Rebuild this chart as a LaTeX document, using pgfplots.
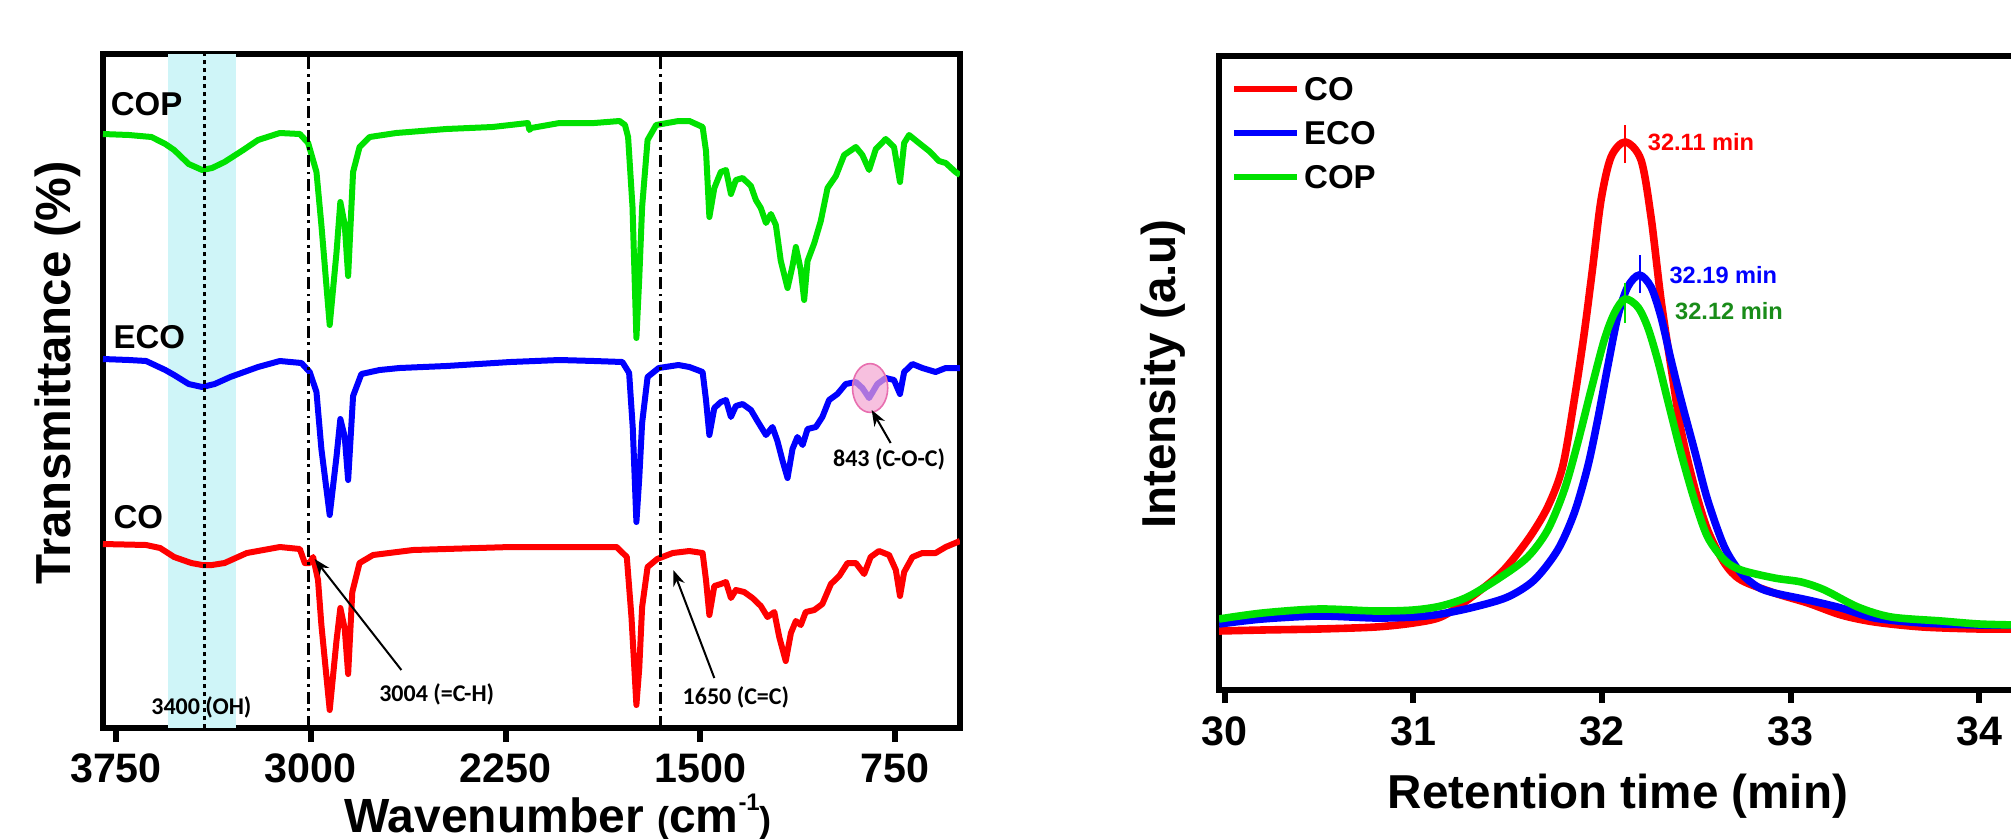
\documentclass[border=0pt]{standalone}
\usepackage{pgfplots}
\pgfplotsset{compat=1.18}
\usepackage{fontspec}
\setmainfont{Liberation Sans}
\newfontfamily\calib{Carlito}
\usetikzlibrary{arrows.meta}
\definecolor{cyanband}{RGB}{207,245,248}
\definecolor{cgreen}{RGB}{0,225,0}
\definecolor{dgreen}{RGB}{25,140,25}
\definecolor{cred}{RGB}{255,0,0}
\definecolor{cblue}{RGB}{0,0,255}
\definecolor{pinkfill}{RGB}{244,165,210}
\definecolor{pinkdraw}{RGB}{232,110,175}

\begin{document}
\begin{tikzpicture}
%================ LEFT: FTIR =================
\begin{axis}[
  at={(25.75pt,27.5pt)}, anchor=south west,
  width=214.25pt, height=168.5pt, scale only axis,
  xmin=500, xmax=3800, ymin=0, ymax=674, x dir=reverse,
  axis line style={line width=1.5pt},
  xtick={750,1500,2250,3000,3750},
  xticklabels={750,1500,2250,3000,3750},
  ytick=\empty, xtick pos=left, tick align=outside,
  major tick length=3.5pt,
  tick style={black, line width=1.5pt},
  xticklabel style={font=\bfseries\fontsize{10.3}{12}\selectfont, anchor=base, yshift=-10pt},
  /pgf/number format/assume math mode=true,
  scaled x ticks=false,
]
\fill[cyanband] (axis cs:3549,0) rectangle (axis cs:3286,674);
% COP
\addplot[cgreen, line width=1.5pt, line join=round] coordinates {
(3800,594) (3700,593) (3613,591) (3560,584) (3526,578) (3470,564) (3418,558) (3380,560) (3332,566) (3260,578) (3203,588) (3119,595) (3042,594) (3010,585) (2978,556) (2959,503) (2927,403) (2901,475) (2886,526) (2869,503) (2856,452) (2837,556) (2812,581) (2773,591) (2671,595) (2478,599) (2300,601) (2164,605) (2158,598) (2151,600) (2042,605) (1908,605) (1811,607) (1790,603) (1778,591) (1761,521) (1746,390) (1735,450) (1724,521) (1703,588) (1670,603) (1584,607) (1542,607) (1491,601) (1478,577) (1465,511) (1446,540) (1421,556) (1401,558) (1382,534) (1363,548) (1337,550) (1305,542) (1286,528) (1267,520) (1247,505) (1228,514) (1209,503) (1190,467) (1164,440) (1145,462) (1132,481) (1113,458) (1100,428) (1087,467) (1061,485) (1036,507) (1010,540) (978,552) (946,573) (901,581) (876,573) (850,558) (824,579) (786,589) (754,581) (731,546) (715,585) (696,593) (658,585) (619,577) (581,567) (555,565) (517,556) (500,553)
};
% ECO
\addplot[cblue, line width=1.5pt, line join=round] coordinates {
(3800,369) (3700,368) (3634,367) (3560,358) (3526,353) (3470,344) (3418,341) (3370,344) (3310,351) (3203,361) (3119,367) (3036,365) (3004,356) (2978,336) (2959,279) (2927,213) (2901,271) (2886,309) (2869,291) (2856,248) (2837,332) (2805,354) (2735,358) (2658,360) (2478,362) (2231,366) (2042,368) (1908,367) (1800,366) (1774,355) (1760,300) (1746,206) (1735,250) (1724,305) (1703,351) (1660,360) (1584,363) (1542,361) (1491,356) (1478,328) (1465,293) (1446,320) (1421,326) (1401,328) (1382,311) (1363,322) (1337,324) (1305,318) (1280,307) (1247,293) (1222,301) (1203,287) (1183,267) (1164,250) (1145,279) (1126,291) (1106,283) (1087,299) (1055,301) (1030,311) (1004,328) (972,334) (940,344) (901,346) (876,340) (850,330) (818,344) (786,350) (754,348) (731,334) (715,356) (683,364) (645,360) (594,356) (555,360) (500,360)
};
% CO
\addplot[cred, line width=1.5pt, line join=round] coordinates {
(3800,184) (3634,183) (3580,180) (3526,171) (3460,165) (3418,163) (3380,163) (3332,165) (3246,175) (3119,181) (3042,179) (3023,165) (3004,165) (2991,171) (2972,148) (2959,103) (2927,18) (2901,87) (2886,120) (2869,99) (2856,54) (2840,136) (2812,165) (2760,173) (2606,178) (2231,181) (2042,181) (1822,181) (1783,171) (1765,111) (1746,23) (1735,60) (1724,121) (1703,161) (1666,169) (1606,175) (1542,177) (1491,175) (1478,148) (1465,113) (1446,142) (1421,144) (1401,146) (1382,130) (1363,138) (1331,136) (1299,130) (1267,122) (1241,111) (1215,116) (1196,91) (1171,67) (1151,95) (1132,107) (1113,103) (1094,116) (1061,118) (1030,124) (997,144) (965,152) (933,165) (901,165) (869,154) (844,171) (812,177) (773,173) (747,158) (731,132) (715,156) (683,171) (645,175) (594,175) (555,181) (500,187)
};
% reference lines
\draw[black, line width=0.75pt, dash pattern=on 1pt off 1pt] (axis cs:3410,0) -- (axis cs:3410,674);
\draw[black, line width=0.75pt, dash pattern=on 3pt off 1.2pt on 0.7pt off 1.2pt] (axis cs:3008,0) -- (axis cs:3008,674);
\draw[black, line width=0.75pt, dash pattern=on 3pt off 1.2pt on 0.7pt off 1.2pt] (axis cs:1655,0) -- (axis cs:1655,674);
% ellipse
\draw[pinkdraw, line width=0.4pt, fill=pinkfill, fill opacity=0.7] (axis cs:846,340) ellipse [x radius=4.4pt, y radius=6.1pt];
% arrows
\draw[black, line width=0.5pt, -{Stealth[length=4pt,width=3pt]}] (axis cs:2651,58) -- (axis cs:2985,169);
\draw[black, line width=0.5pt, -{Stealth[length=4pt,width=3pt]}] (axis cs:1446,50) -- (axis cs:1604,158);
\draw[black, line width=0.5pt, -{Stealth[length=4pt,width=3pt]}] (axis cs:767,285) -- (axis cs:840,318);
% labels
\node[anchor=west, inner sep=0pt, font=\bfseries\fontsize{8.25}{9}\selectfont] at (axis cs:3773,624) {COP};
\node[anchor=west, inner sep=0pt, font=\bfseries\fontsize{8.25}{9}\selectfont] at (axis cs:3762,391) {ECO};
\node[anchor=west, inner sep=0pt, font=\bfseries\fontsize{8.25}{9}\selectfont] at (axis cs:3762,211) {CO};
\node[inner sep=0pt, font=\calib\bfseries\fontsize{6}{7}\selectfont] at (axis cs:3421,21) {3400 (OH)};
\node[inner sep=0pt, font=\calib\bfseries\fontsize{6}{7}\selectfont] at (axis cs:2515,34) {3004 (=C-H)};
\node[inner sep=0pt, font=\calib\bfseries\fontsize{6}{7}\selectfont] at (axis cs:1363,31) {1650 (C=C)};
\node[inner sep=0pt, font=\calib\bfseries\fontsize{6}{7}\selectfont] at (axis cs:773,269) {843 (C-O-C)};
\end{axis}

%================ RIGHT: GPC =================
\begin{axis}[
  at={(304.75pt,37pt)}, anchor=south west,
  width=199.5pt, height=158.5pt, scale only axis,
  xmin=29.97, xmax=34.2, ymin=0, ymax=634,
  axis line style={line width=1.5pt},
  xtick={30,31,32,33,34},
  xticklabels={30,31,32,33,34},
  ytick=\empty, xtick pos=left, tick align=outside,
  major tick length=3.25pt,
  tick style={black, line width=1.5pt},
  xticklabel style={font=\bfseries\fontsize{10.3}{12}\selectfont, anchor=base, yshift=-10.5pt},
  /pgf/number format/assume math mode=true,
  legend style={at={(0,1)}, anchor=north west, xshift=2.75pt, yshift=-5pt,
    draw=none, fill=none, inner sep=0pt, row sep=5pt, column sep=1pt,
    font=\bfseries\fontsize{8.25}{9}\selectfont,
    nodes={inner sep=0pt, text height=6pt, text depth=0pt}},
  legend cell align=left,
  legend image code/.code={\draw[#1, line width=1.6pt] (0pt,0pt) -- (15.75pt,0pt);},
]
\addplot[cred, line width=1.9pt, smooth] coordinates {
(29.97,59) (30.2,60) (30.5,61) (30.8,63) (31.0,67) (31.146,73) (31.287,90) (31.464,117) (31.606,150) (31.712,183) (31.791,223) (31.853,290) (31.906,357) (31.951,423) (31.995,490) (32.048,533) (32.124,548) (32.207,530) (32.26,473) (32.313,390) (32.366,323) (32.419,260) (32.49,203) (32.56,160) (32.649,127) (32.737,110) (32.914,97) (33.091,87) (33.268,75) (33.445,68) (33.7,63) (34.0,61) (34.2,61)
};
\addlegendentry{CO}
\addplot[cblue, line width=1.9pt, smooth] coordinates {
(29.97,66) (30.2,71) (30.5,74) (30.8,72) (31.0,73) (31.146,76) (31.323,83) (31.5,93) (31.641,110) (31.765,140) (31.853,177) (31.924,223) (31.977,270) (32.03,323) (32.083,373) (32.136,403) (32.198,415) (32.26,403) (32.313,373) (32.366,330) (32.419,290) (32.49,240) (32.56,190) (32.649,143) (32.737,117) (32.826,103) (32.914,97) (33.091,90) (33.268,82) (33.445,72) (33.7,67) (34.0,65) (34.2,65)
};
\addlegendentry{ECO}
\addplot[cgreen, line width=1.9pt, smooth] coordinates {
(29.97,71) (30.2,77) (30.5,81) (30.8,79) (31.0,80) (31.146,84) (31.287,93) (31.464,113) (31.606,133) (31.712,160) (31.8,200) (31.871,247) (31.942,300) (32.012,350) (32.066,377) (32.122,391) (32.19,383) (32.242,363) (32.295,330) (32.348,290) (32.419,237) (32.49,190) (32.56,153) (32.649,130) (32.737,120) (32.914,112) (33.056,108) (33.18,100) (33.356,83) (33.533,73) (33.8,69) (34.0,66) (34.2,65)
};
\addlegendentry{COP}
% peak markers
\draw[cred, line width=0.5pt] (axis cs:32.124,527) -- (axis cs:32.124,565);
\draw[cblue, line width=0.5pt] (axis cs:32.2,397) -- (axis cs:32.2,435);
\draw[cgreen, line width=0.5pt] (axis cs:32.122,367) -- (axis cs:32.122,407);
\node[anchor=west, inner sep=0pt, text=cred, font=\bfseries\fontsize{5.9}{7}\selectfont] at (axis cs:32.239,548) {32.11 min};
\node[anchor=west, inner sep=0pt, text=cblue, font=\bfseries\fontsize{5.9}{7}\selectfont] at (axis cs:32.354,415) {32.19 min};
\node[anchor=west, inner sep=0pt, text=dgreen, font=\bfseries\fontsize{5.9}{7}\selectfont] at (axis cs:32.384,379) {32.12 min};
\end{axis}

% axis titles
\node[rotate=90, inner sep=0pt, font=\bfseries\fontsize{12.3}{14}\selectfont] at (14.5pt,116.25pt) {Transmittance (\%)};
\node[rotate=90, inner sep=0pt, font=\bfseries\fontsize{11.9}{14}\selectfont] at (290.75pt,116pt) {Intensity (a.u)};
\node[anchor=base, inner sep=0pt, font=\bfseries\fontsize{12}{14}\selectfont] at (139.5pt,1.5pt) {Wavenumber {\fontsize{9}{10}\selectfont(}cm\raisebox{5.3pt}{\fontsize{6}{7}\selectfont -1}{\fontsize{9}{10}\selectfont)}};
\node[anchor=base, inner sep=0pt, font=\bfseries\fontsize{11.9}{14}\selectfont] at (404.5pt,7.5pt) {Retention time (min)};

\pgfresetboundingbox
\useasboundingbox (0,0) rectangle (502.75pt,209.5pt);
\end{tikzpicture}
\end{document}
